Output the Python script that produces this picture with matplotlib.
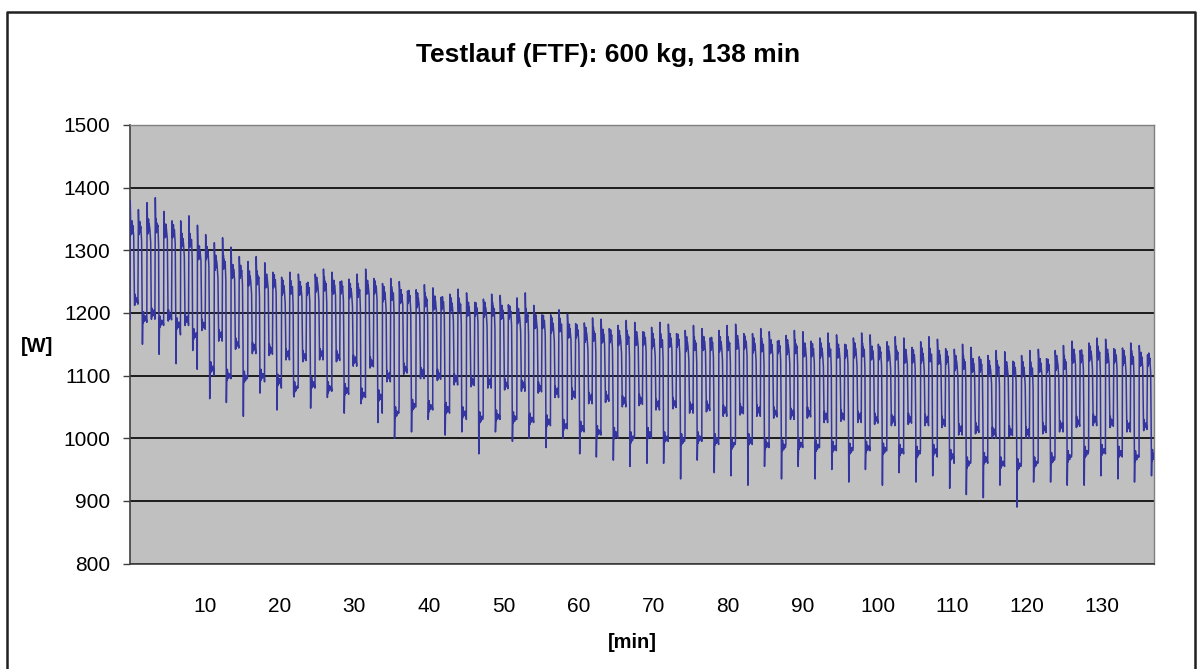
## imports
import numpy as np
import matplotlib
matplotlib.use("Agg")
import matplotlib.pyplot as plt
from matplotlib.lines import Line2D

plt.rcParams['font.family'] = ['Liberation Sans', 'DejaVu Sans']

## per-cycle levels (one cycle ~2.25 min)
cycle_len = 2.25
peak = [1380, 1384, 1362, 1355, 1340, 1320, 1305, 1290, 1280, 1265,
        1262, 1270, 1265, 1262, 1270, 1255, 1250, 1245, 1240, 1238,
        1232, 1230, 1228, 1232, 1212, 1205, 1198, 1192, 1190, 1188,
        1185, 1185, 1182, 1180, 1175, 1180, 1182, 1175, 1170, 1172,
        1170, 1168, 1165, 1168, 1165, 1162, 1160, 1162, 1158, 1150,
        1145, 1140, 1138, 1140, 1142, 1148, 1155, 1160, 1158, 1152, 1148]
high = [1335, 1338, 1330, 1315, 1295, 1280, 1265, 1255, 1250, 1240,
        1238, 1245, 1240, 1235, 1240, 1230, 1225, 1220, 1215, 1212,
        1205, 1205, 1200, 1195, 1185, 1180, 1170, 1165, 1162, 1160,
        1158, 1155, 1155, 1150, 1150, 1150, 1152, 1148, 1145, 1145,
        1140, 1140, 1138, 1140, 1135, 1135, 1130, 1132, 1128, 1120,
        1115, 1112, 1110, 1110, 1115, 1120, 1130, 1135, 1130, 1128, 1125]
mid = [1220, 1200, 1195, 1190, 1180, 1165, 1150, 1145, 1140, 1135,
       1130, 1135, 1130, 1125, 1120, 1100, 1110, 1105, 1100, 1095,
       1090, 1090, 1085, 1085, 1080, 1075, 1070, 1065, 1065, 1060,
       1060, 1055, 1055, 1050, 1050, 1045, 1045, 1045, 1040, 1040,
       1040, 1035, 1035, 1035, 1030, 1030, 1030, 1030, 1025, 1015,
       1015, 1010, 1010, 1010, 1015, 1020, 1025, 1030, 1025, 1020, 1020]
low = [1190, 1185, 1180, 1165, 1110, 1100, 1095, 1100, 1090, 1080,
       1085, 1080, 1075, 1070, 1065, 1040, 1050, 1050, 1045, 1040,
       1030, 1035, 1030, 1030, 1025, 1020, 1015, 1010, 1005, 1000,
       1005, 1000, 995, 1000, 995, 990, 995, 990, 985, 990,
       985, 985, 980, 985, 980, 980, 975, 980, 970, 960,
       965, 960, 955, 960, 965, 970, 975, 980, 975, 970, 970]
dip = [1150, 1124, 1119, 1130, 1063, 1047, 1035, 1062, 1045, 1060,
       1048, 1055, 1040, 1045, 1025, 990, 1010, 1020, 1005, 1000,
       975, 1000, 995, 990, 985, 990, 975, 960, 965, 945,
       960, 950, 935, 955, 945, 930, 925, 945, 935, 945,
       935, 940, 930, 940, 925, 935, 930, 930, 920, 900,
       905, 915, 890, 920, 930, 915, 925, 930, 935, 920, 940]

## shape of one cycle: (fraction of cycle, level, offset in W)
## two variants, used on alternate cycles
shape_a = [(0.00, 'low', 0), (0.012, 'peak', 0), (0.035, 'high', 14),
           (0.05, 'high', -6), (0.065, 'high', 10), (0.08, 'high', -10),
           (0.095, 'high', 8), (0.11, 'high', -4), (0.125, 'high', 12),
           (0.14, 'high', -8), (0.16, 'high', 5), (0.19, 'high', -3),
           (0.22, 'high', -12), (0.245, 'mid', 40), (0.26, 'mid', 8),
           (0.275, 'mid', -8), (0.29, 'mid', 10), (0.305, 'mid', -6),
           (0.32, 'mid', 6), (0.36, 'mid', -3), (0.42, 'mid', 4),
           (0.47, 'mid', -6), (0.50, 'peak', -15), (0.52, 'high', 6),
           (0.535, 'high', -10), (0.55, 'high', 9), (0.565, 'high', -7),
           (0.58, 'high', 11), (0.60, 'high', -5), (0.64, 'high', 3),
           (0.69, 'high', -20), (0.72, 'mid', 0), (0.74, 'dip', 0),
           (0.755, 'low', -10), (0.77, 'low', 10), (0.785, 'low', -6),
           (0.80, 'low', 12), (0.815, 'low', -4), (0.83, 'low', 6),
           (0.87, 'low', -3), (0.92, 'low', 5), (0.97, 'low', 0)]
shape_b = [(0.00, 'low', 0), (0.015, 'peak', -8), (0.04, 'high', 8),
           (0.055, 'high', -12), (0.07, 'high', 6), (0.085, 'high', -6),
           (0.10, 'high', 12), (0.12, 'high', -8), (0.14, 'high', 4),
           (0.18, 'high', -4), (0.23, 'high', -25), (0.26, 'mid', 15),
           (0.275, 'mid', -10), (0.29, 'mid', 8), (0.305, 'mid', -6),
           (0.33, 'mid', 4), (0.38, 'mid', -4), (0.44, 'mid', 5),
           (0.48, 'mid', -10), (0.505, 'peak', 0), (0.525, 'high', 10),
           (0.54, 'high', -6), (0.555, 'high', 12), (0.57, 'high', -10),
           (0.585, 'high', 6), (0.61, 'high', -3), (0.66, 'high', 2),
           (0.70, 'high', -30), (0.73, 'dip', 10), (0.745, 'low', -14),
           (0.76, 'low', 8), (0.775, 'low', -8), (0.79, 'low', 10),
           (0.805, 'low', -5), (0.83, 'low', 4), (0.88, 'low', -4),
           (0.94, 'low', 3), (0.98, 'low', 0)]

levels = {'peak': peak, 'high': high, 'mid': mid, 'low': low, 'dip': dip}

t, w = [], []
for k in range(len(peak)):
    shape = shape_a if k % 2 == 0 else shape_b
    for frac, name, off in shape:
        t.append((k + frac) * cycle_len)
        w.append(levels[name][k] + off)
t = np.array(t)
w = np.array(w)

## figure
fig = plt.figure(figsize=(12.01, 6.69), dpi=100)
ax = fig.add_axes([130 / 1201, (669 - 563.5) / 669, 1024 / 1201, 438.5 / 669])
ax.set_facecolor('#C0C0C0')
ax.plot(t, w, color='#3535A0', lw=1.1, zorder=3)

ax.set_xlim(0, 137)
ax.set_ylim(800, 1500)
ax.set_yticks(np.arange(800, 1501, 100))
ax.set_xticks(np.arange(10, 131, 10))
ax.grid(axis='y', color='black', lw=1.2, zorder=1)
ax.set_axisbelow(True)
ax.tick_params(axis='y', direction='out', length=5, width=1, color='#404040',
               labelsize=15, pad=9)
ax.tick_params(axis='x', length=0, labelsize=15, pad=24)

for s in ['top', 'right']:
    ax.spines[s].set_color('#808080')
    ax.spines[s].set_linewidth(1)
for s in ['left', 'bottom']:
    ax.spines[s].set_color('#404040')
    ax.spines[s].set_linewidth(1.2)

fig.text(608 / 1201, 1 - 55 / 669, 'Testlauf (FTF): 600 kg, 138 min',
         ha='center', va='center', fontsize=19, fontweight='bold')
fig.text(37 / 1201, 1 - 347 / 669, '[W]', ha='center', va='center',
         fontsize=14.5, fontweight='bold')
fig.text(632 / 1201, 1 - 643 / 669, '[min]', ha='center', va='center',
         fontsize=14.5, fontweight='bold')

## outer chart border
x0, x1, y1 = 7 / 1201, 1195 / 1201, 1 - 12 / 669
fig.add_artist(Line2D([x0, x0, x1, x1], [-0.01, y1, y1, -0.01],
                      transform=fig.transFigure, color='#202020', lw=1.8))

fig.savefig('out.png', dpi=100)
